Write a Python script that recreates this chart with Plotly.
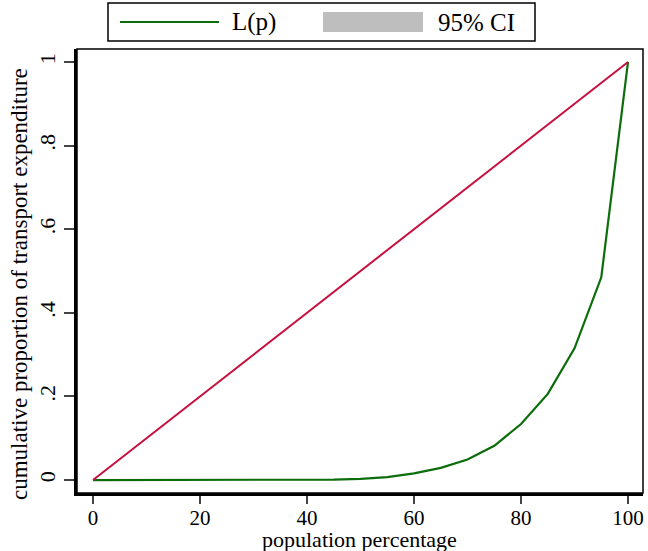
import plotly.graph_objects as go

# Data
pop_pct = [0, 5, 10, 15, 20, 25, 30, 35, 40, 45, 50, 55, 60, 65, 70, 75, 80, 85, 90, 95, 100]
lorenz = [0, 0, 0, 0, 0, 0, 0, 0, 0, 0.001, 0.003, 0.007, 0.016, 0.029, 0.049, 0.082, 0.134, 0.206, 0.315, 0.485, 1.0]
ci_lower = [0, 0, 0, 0, 0, 0, 0, 0, 0, 0.0008, 0.0026, 0.0064, 0.0152, 0.0280, 0.0478, 0.0805, 0.1320, 0.2035, 0.3120, 0.4815, 1.0]
ci_upper = [0, 0, 0, 0, 0, 0, 0, 0, 0, 0.0012, 0.0034, 0.0076, 0.0168, 0.0300, 0.0502, 0.0835, 0.1360, 0.2085, 0.3180, 0.4885, 1.0]
equality_x = [0, 100]
equality_y = [0, 1]
x_ticks = [0, 20, 40, 60, 80, 100]
y_ticks = [0, 0.2, 0.4, 0.6, 0.8, 1.0]
y_ticktext = ["0", ".2", ".4", ".6", ".8", "1"]

FONT = "Liberation Serif, Times New Roman, serif"
GREEN = "#0b6e0b"
RED = "#c8103e"
GRAY = "#bebebe"

fig = go.Figure()
fig.add_trace(go.Scatter(x=pop_pct, y=ci_lower, mode="lines", line=dict(width=0),
                         showlegend=False, hoverinfo="skip"))
fig.add_trace(go.Scatter(x=pop_pct, y=ci_upper, mode="lines", line=dict(width=0),
                         fill="tonexty", fillcolor=GRAY, showlegend=False))
fig.add_trace(go.Scatter(x=pop_pct, y=lorenz, mode="lines",
                         line=dict(color=GREEN, width=2.2), showlegend=False))
fig.add_trace(go.Scatter(x=equality_x, y=equality_y, mode="lines",
                         line=dict(color=RED, width=2), showlegend=False))

L, R, T, B = 77, 5, 49, 58
W, H = 648, 551
pw, ph = W - L - R, H - T - B

def px(x):
    return (x - L) / pw

def py(y):
    return (H - B - y) / ph

fig.update_layout(
    width=W, height=H,
    margin=dict(l=L, r=R, t=T, b=B, pad=0),
    paper_bgcolor="white", plot_bgcolor="white",
    font=dict(family=FONT, size=22, color="black"),
    showlegend=False,
    xaxis=dict(range=[-3.0, 102.8], tickvals=x_ticks, ticks="outside", ticklen=8,
               tickwidth=1.5, tickcolor="#444", showgrid=False, zeroline=False,
               showline=True, linecolor="black", linewidth=2.5,
               ticklabelstandoff=-4,
               tickfont=dict(family=FONT, size=21)),
    yaxis=dict(range=[-0.031, 1.031], tickvals=y_ticks, ticktext=y_ticktext,
               ticks="outside", ticklen=10, tickwidth=1.5, tickcolor="#444",
               tickangle=-90, showgrid=False, zeroline=False,
               showline=True, linecolor="black", linewidth=2.5,
               tickfont=dict(family=FONT, size=22)),
    shapes=[
        # plot frame
        dict(type="rect", xref="paper", yref="paper", x0=0, x1=1, y0=0, y1=1,
             line=dict(color="black", width=1.5), layer="above"),
        # legend box
        dict(type="rect", xref="paper", yref="paper", x0=px(108), x1=px(535),
             y0=py(41), y1=py(3), line=dict(color="black", width=1.5),
             fillcolor="white"),
        dict(type="line", xref="paper", yref="paper", x0=px(120), x1=px(219),
             y0=py(22), y1=py(22), line=dict(color=GREEN, width=2)),
        dict(type="rect", xref="paper", yref="paper", x0=px(323), x1=px(423),
             y0=py(32), y1=py(12), line=dict(width=0), fillcolor=GRAY),
    ],
    annotations=[
        dict(text="L(p)", xref="paper", yref="paper", x=px(230), y=py(22),
             xanchor="left", yanchor="middle", showarrow=False,
             font=dict(family=FONT, size=25)),
        dict(text="95% CI", xref="paper", yref="paper", x=px(436), y=py(22),
             xanchor="left", yanchor="middle", showarrow=False,
             font=dict(family=FONT, size=25)),
        dict(text="population percentage", xref="paper", yref="paper",
             x=px(359), y=py(539), xanchor="center", yanchor="middle", showarrow=False,
             font=dict(family=FONT, size=22)),
        dict(text="cumulative proportion of transport expenditure", xref="paper",
             yref="paper", x=px(19), y=py(284), xanchor="center", yanchor="middle",
             textangle=-90, showarrow=False, font=dict(family=FONT, size=23)),
    ],
)

fig.write_html("out.html", config={"displayModeBar": False})

# remove default body margin so the figure fills the window exactly
with open("out.html", "r", encoding="utf-8") as f:
    html = f.read()
html = html.replace("<body>", '<body style="margin:0;padding:0;overflow:hidden">', 1)
with open("out.html", "w", encoding="utf-8") as f:
    f.write(html)
